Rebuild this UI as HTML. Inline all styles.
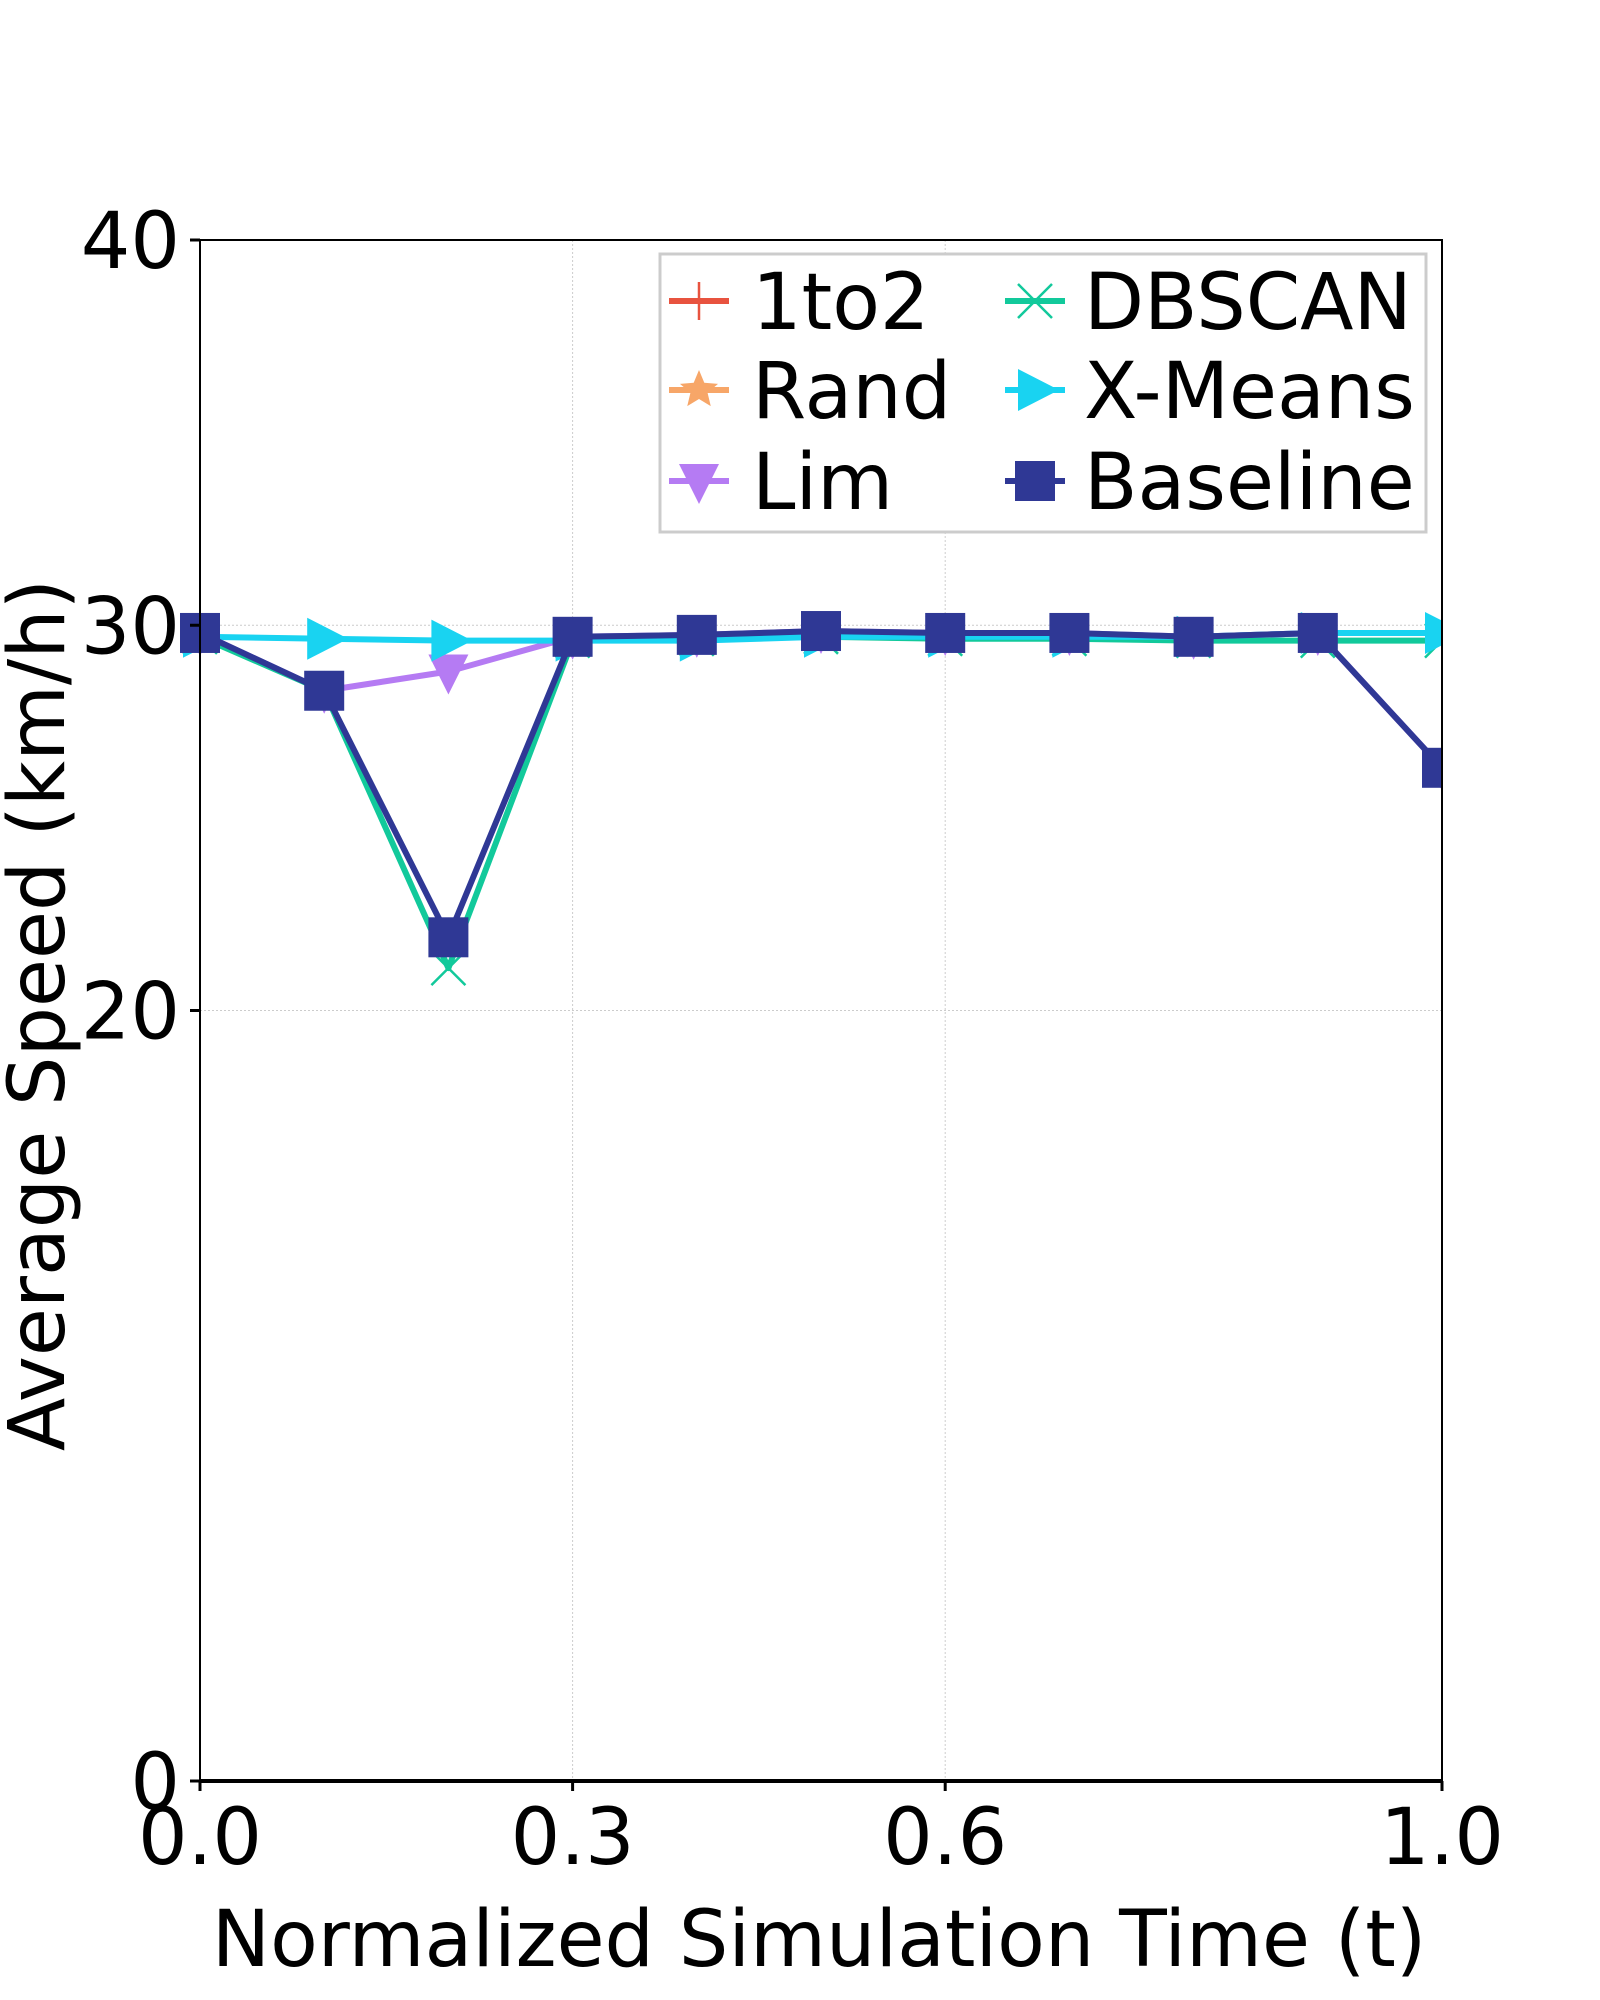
<!DOCTYPE html>
<html><head><meta charset="utf-8"><style>body{margin:0;background:#fff}svg{display:block}text{font-family:"DejaVu Sans","Liberation Sans",sans-serif;fill:#000}</style></head>
<body>
<svg id="chart" width="1600" height="2000" viewBox="0 0 1600 2000"></svg>
<script>
const xValues=[0,0.1,0.2,0.3,0.4,0.5,0.6,0.7,0.8,0.9,1.0];
const s1to2=[29.8,28.3,21.9,29.7,29.75,29.85,29.8,29.8,29.7,29.8,26.3];
const sRand=[29.8,28.3,21.9,29.7,29.75,29.85,29.8,29.8,29.7,29.8,26.3];
const sLim=[29.8,28.3,28.8,29.7,29.75,29.85,29.8,29.8,29.7,29.8,26.3];
const sDbscan=[29.7,28.3,21.1,29.6,29.65,29.7,29.65,29.65,29.6,29.6,29.6];
const sXmeans=[29.7,29.65,29.6,29.6,29.6,29.7,29.7,29.7,29.7,29.8,29.8];
const sBaseline=[29.8,28.3,21.9,29.7,29.75,29.85,29.8,29.8,29.7,29.8,26.3];
const xTicks=[0,0.3,0.6,1.0];
const xTickLabels=["0.0","0.3","0.6","1.0"];
const yTicks=[0,20,30,40];
const yTickLabels=["0","20","30","40"];

const L=200,R=1442,T=240,B=1781;
const X=v=>L+v*(R-L);
const Y=v=>B-v/40*(B-T);
const NS="http://www.w3.org/2000/svg";
const svg=document.getElementById('chart');
function mk(tag,attrs,parent){const e=document.createElementNS(NS,tag);for(const k in attrs)e.setAttribute(k,attrs[k]);(parent||svg).appendChild(e);return e;}

xTicks.forEach((t,i)=>{
  const g=mk('line',{x1:X(t),x2:X(t),y1:T,y2:B,stroke:'#ccc','stroke-width':1,'stroke-dasharray':'2,2'});
  
  
});
yTicks.forEach(t=>{
  const g=mk('line',{x1:L,x2:R,y1:Y(t),y2:Y(t),stroke:'#ccc','stroke-width':1,'stroke-dasharray':'2,2'});
  
  
});

function marker(type,x,y,color,g){
  if(type==='plus'){mk('path',{d:`M${x-19} ${y}H${x+19}M${x} ${y-19}V${y+19}`,stroke:color,'stroke-width':2.5,fill:'none'},g);}
  else if(type==='x'){mk('path',{d:`M${x-17} ${y-17}L${x+17} ${y+17}M${x-17} ${y+17}L${x+17} ${y-17}`,stroke:color,'stroke-width':2.5,fill:'none'},g);}
  else if(type==='star'){let p='';for(let i=0;i<10;i++){const r=i%2?9:20,a=-Math.PI/2+i*Math.PI/5;p+=(i?'L':'M')+(x+r*Math.cos(a))+' '+(y+r*Math.sin(a));}mk('path',{d:p+'Z',fill:color},g);}
  else if(type==='down'){mk('path',{d:`M${x-20} ${y-17}L${x+20} ${y-17}L${x} ${y+23}Z`,fill:color},g);}
  else if(type==='right'){mk('path',{d:`M${x-17} ${y-21}L${x+24} ${y}L${x-17} ${y+21}Z`,fill:color},g);}
  else if(type==='square'){mk('rect',{x:x-20,y:y-20,width:40,height:40,fill:color},g);}
}
const series=[
 {name:'1to2',data:s1to2,color:'#e8533f',m:'plus',w:4},
 {name:'Rand',data:sRand,color:'#f7a668',m:'star',w:5},
 {name:'Lim',data:sLim,color:'#b57bf3',m:'down',w:6},
 {name:'DBSCAN',data:sDbscan,color:'#12c99b',m:'x',w:6},
 {name:'X-Means',data:sXmeans,color:'#19d3f1',m:'right',w:6},
 {name:'Baseline',data:sBaseline,color:'#2f3895',m:'square',w:6}
];
const clip=mk('clipPath',{id:'cp'});mk('rect',{x:L-30,y:T,width:R-L+30,height:B-T},clip);
series.forEach(s=>{
  const g=mk('g',{'clip-path':'url(#cp)'});
  
  
  mk('polyline',{points:s.data.map((v,i)=>X(xValues[i])+','+Y(v)).join(' '),fill:'none',stroke:s.color,'stroke-width':s.w,'stroke-linejoin':'round'},g);
  s.data.forEach((v,i)=>marker(s.m,X(xValues[i]),Y(v),s.color,g));
});

const fr=mk('rect',{x:L,y:T,width:R-L,height:B-T,fill:'none',stroke:'#000','stroke-width':2});


mk('line',{x1:L,x2:R,y1:B,y2:B,stroke:'#000','stroke-width':4});
xTicks.forEach((t,i)=>{
  mk('line',{x1:X(t),x2:X(t),y1:B,y2:B+10,stroke:'#000','stroke-width':3});
  const tx=mk('text',{x:X(t),y:1864,'font-size':78,'text-anchor':'middle'});tx.textContent=xTickLabels[i];
  
  
});
yTicks.forEach((t,i)=>{
  mk('line',{x1:L-10,x2:L,y1:Y(t),y2:Y(t),stroke:'#000','stroke-width':3});
  const tx=mk('text',{x:180,y:Y(t)+28,'font-size':78,'text-anchor':'end'});tx.textContent=yTickLabels[i];
  
  
});
const xl=mk('text',{x:819,y:1966,'font-size':78,'text-anchor':'middle'});xl.textContent='Normalized Simulation Time (t)';


const yl=mk('text',{x:0,y:0,'font-size':78,'text-anchor':'middle',transform:'translate(64,1015) rotate(-90)'});yl.textContent='Average Speed (km/h)';



const lg=mk('g',{});


mk('rect',{x:660,y:254,width:766,height:278,fill:'#fff',stroke:'#ccc','stroke-width':3},lg);
series.forEach((s,i)=>{
  const col=Math.floor(i/3),row=i%3;
  const hx=col?1005:669,tx=col?1084:752,y=[301,390,481][row];
  const e=mk('g',{},lg);
  
  
  mk('line',{x1:hx,x2:hx+60,y1:y,y2:y,stroke:s.color,'stroke-width':6},e);
  marker(s.m,hx+30,y,s.color,e);
  const t=mk('text',{x:tx,y:y+28,'font-size':78},e);t.textContent=s.name;
});
</script>
</body></html>
